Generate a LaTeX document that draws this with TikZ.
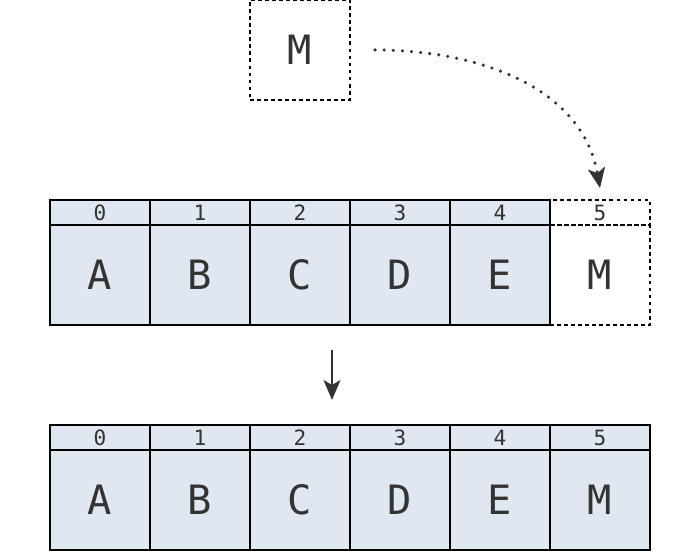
\documentclass[tikz,border=0pt]{standalone}
\usepackage{fontspec}
\setmonofont{DejaVu Sans Mono}
\usetikzlibrary{arrows.meta}

\definecolor{cellblue}{HTML}{DFE8F1}
\definecolor{ink}{HTML}{333333}

\tikzset{
    cell/.style={draw=black, line width=0.6pt, minimum width=2cm, minimum height=2cm,
        inner sep=0pt, outer sep=0pt, text=ink, font=\ttfamily\fontsize{23}{23}\selectfont},
    idx/.style={draw=black, line width=0.6pt, minimum width=2cm, minimum height=0.5cm,
        inner sep=0pt, outer sep=0pt, text=ink, font=\ttfamily\fontsize{12}{12}\selectfont},
    ghost/.style={dash pattern=on 2.2pt off 1.8pt, fill=none},
    flow/.style={draw=ink, line width=1.1pt, -{Stealth[length=0.4cm, width=0.34cm, inset=0.1cm]}},
}

\begin{document}
\begin{tikzpicture}
    \useasboundingbox (0,0) rectangle (14,-11.04);

    % new element waiting to be appended
    \node[cell, ghost] (mnew) at (6,-1) {M};

    % array before append
    \foreach \ch [count=\i from 0] in {A,B,C,D,E} {
        \node[idx, fill=cellblue] (ta\i) at (2+2*\i,-4.25) {\i};
        \node[cell, fill=cellblue] (ca\i) at (2+2*\i,-5.5) {\ch};
    }
    \node[idx, ghost] (ta5) at (12,-4.25) {5};
    \node[cell, ghost] (ca5) at (12,-5.5) {M};

    % array after append
    \foreach \ch [count=\i from 0] in {A,B,C,D,E,M} {
        \node[idx, fill=cellblue] (tb\i) at (2+2*\i,-8.75) {\i};
        \node[cell, fill=cellblue] (cb\i) at (2+2*\i,-10) {\ch};
    }

    % arrows
    \coordinate (mout) at ([xshift=0.5cm]mnew.east);
    \coordinate (min) at ([yshift=0.24cm]ta5.north);
    \draw[flow, line width=2pt, line cap=round, dash pattern=on 0pt off 5.2pt] (mout) to[out=0, in=100] (min);

    \coordinate (dtop) at (6.64,-7);
    \coordinate (dbot) at (6.64,-8);
    \draw[flow] (dtop) -- (dbot);
\end{tikzpicture}
\end{document}
